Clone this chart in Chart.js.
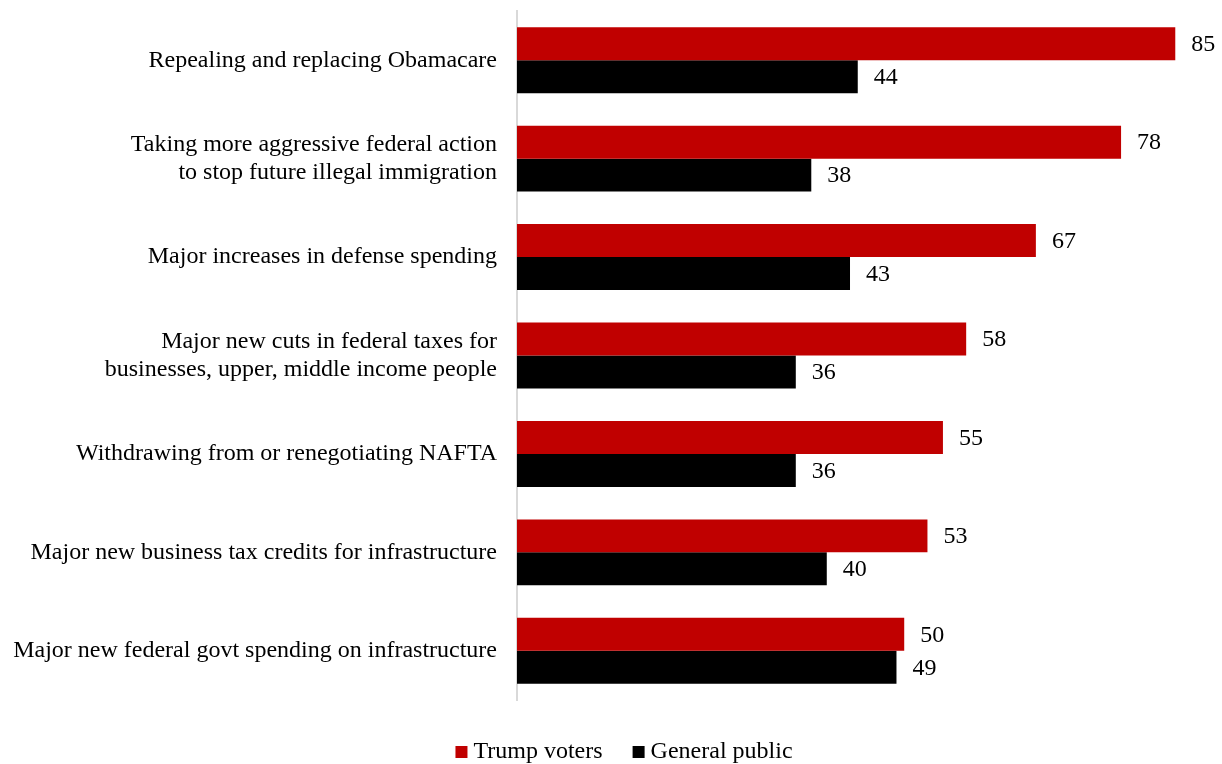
<!DOCTYPE html>
<html>
<head>
<meta charset="utf-8">
<script src="https://cdn.jsdelivr.net/npm/chart.js@4/dist/chart.umd.min.js"></script>
<style>
  body { margin: 0; background: #fff; }
  #wrap { width: 1222px; height: 764px; }
</style>
</head>
<body>
<div id="wrap">
  <canvas id="policies" width="1222" height="764"></canvas>
</div>
<script>
// policy labels (multi-line where the label wraps)
var policies = [
  "Repealing and replacing Obamacare",
  ["Taking more aggressive federal action", "to stop future illegal immigration"],
  "Major increases in defense spending",
  ["Major new cuts in federal taxes for", "businesses, upper, middle income people"],
  "Withdrawing from or renegotiating NAFTA",
  "Major new business tax credits for infrastructure",
  "Major new federal govt spending on infrastructure"
];
var trumpVoters = [85, 78, 67, 58, 55, 53, 50];
var generalPublic = [44, 38, 43, 36, 36, 40, 49];

var serif = "'Liberation Serif', 'Times New Roman', serif";

// writes each bar's value just past its end
var valueLabels = {
  id: 'valueLabels',
  afterDatasetsDraw: function(chart) {
    var ctx = chart.ctx;
    ctx.save();
    ctx.font = "24px " + serif;
    ctx.fillStyle = "#000";
    ctx.textAlign = "left";
    ctx.textBaseline = "middle";
    chart.data.datasets.forEach(function(ds, i) {
      chart.getDatasetMeta(i).data.forEach(function(bar, j) {
        ctx.fillText(ds.data[j], bar.x + 16, bar.y + 1);
      });
    });
    ctx.restore();
  }
};

// small square swatches + series names, centred under the plot
var bottomLegend = {
  id: 'bottomLegend',
  afterDraw: function(chart) {
    var ctx = chart.ctx;
    var box = 12, gap = 6, spacing = 30, y = 752;
    ctx.save();
    ctx.font = "24px " + serif;
    ctx.textBaseline = "middle";
    ctx.textAlign = "left";
    var items = chart.data.datasets.map(function(ds) {
      return { text: ds.label, color: ds.backgroundColor, w: ctx.measureText(ds.label).width };
    });
    var total = items.reduce(function(s, it) { return s + box + gap + it.w; }, 0) + spacing * (items.length - 1);
    var x = 624 - total / 2;
    items.forEach(function(it) {
      ctx.fillStyle = it.color;
      ctx.fillRect(x, y - 6, box, box);
      ctx.fillStyle = "#000";
      ctx.fillText(it.text, x + box + gap, y);
      x += box + gap + it.w + spacing;
    });
    ctx.restore();
  }
};

var ctx = document.getElementById("policies");
var chart = new Chart(ctx, {
  type: 'bar',
  data: {
    labels: policies,
    datasets: [{
      label: "Trump voters",
      data: trumpVoters,
      backgroundColor: "#C00000",
      categoryPercentage: 0.67,
      barPercentage: 1.0
    }, {
      label: "General public",
      data: generalPublic,
      backgroundColor: "#000000",
      categoryPercentage: 0.67,
      barPercentage: 1.0
    }]
  },
  options: {
    indexAxis: 'y',
    responsive: false,
    animation: false,
    layout: { padding: { top: 11, right: 8, bottom: 0, left: 0 } },
    scales: {
      x: {
        min: 0,
        max: 90,
        grid: { display: false },
        border: { display: false },
        ticks: { display: false },
        afterFit: function(scale) { scale.height = 64; scale.paddingLeft = 0; scale.paddingRight = 0; }
      },
      y: {
        grid: { display: false },
        border: { color: "#d9d9d9", width: 2 },
        ticks: {
          color: "#000",
          padding: 12,
          font: { family: serif, size: 24, lineHeight: 1.17 }
        },
        afterFit: function(scale) {
          scale.width = 517;
          scale.paddingTop = 0;
          scale.paddingBottom = 0;
        }
      }
    },
    plugins: {
      legend: { display: false },
      tooltip: { enabled: false }
    }
  },
  plugins: [valueLabels, bottomLegend]
});
</script>
</body>
</html>
